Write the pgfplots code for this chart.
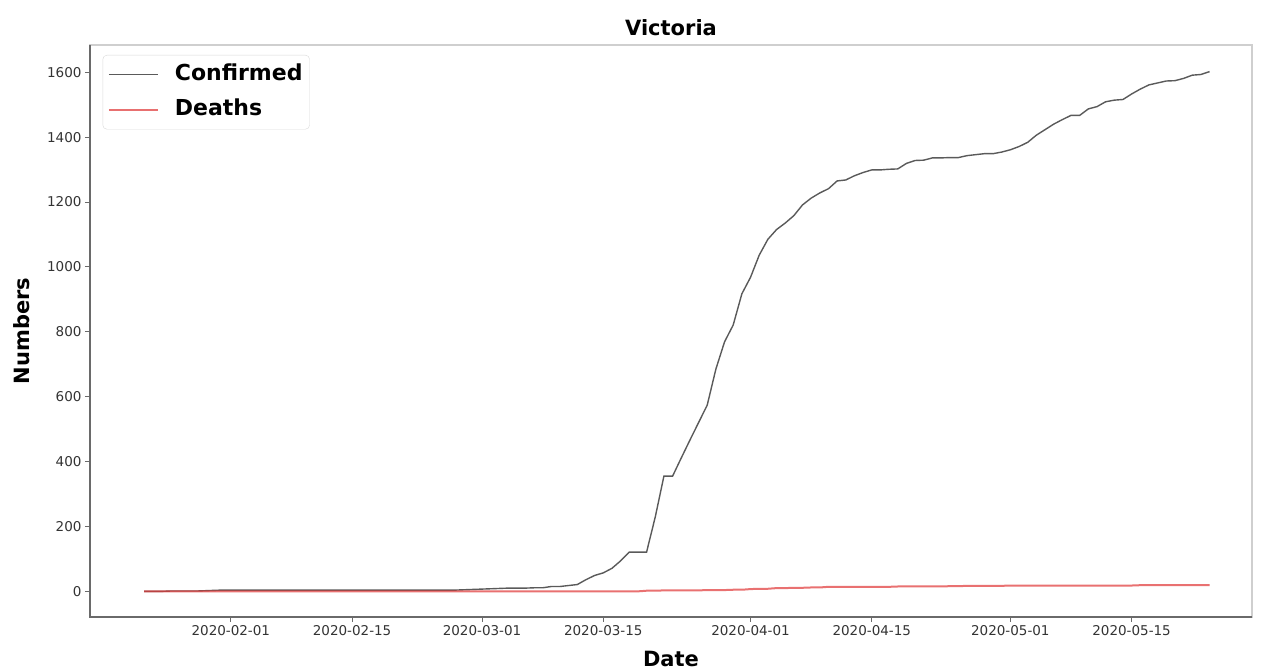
\documentclass[border=0pt]{standalone}
\usepackage{fontspec}
\setmainfont{DejaVu Sans}
\usepackage{pgfplots}
\usepackage{pgfplotstable}
\pgfplotsset{compat=1.18}

% Victoria: cumulative confirmed cases and deaths, day 0 = 2020-02-01
\pgfplotstableread{
day conf death
-10 0 0
-9 0 0
-8 0 0
-7 1 0
-6 1 0
-5 1 0
-4 1 0
-3 2 0
-2 3 0
-1 4 0
0 4 0
1 4 0
2 4 0
3 4 0
4 4 0
5 4 0
6 4 0
7 4 0
8 4 0
9 4 0
10 4 0
11 4 0
12 4 0
13 4 0
14 4 0
15 4 0
16 4 0
17 4 0
18 4 0
19 4 0
20 4 0
21 4 0
22 4 0
23 4 0
24 4 0
25 4 0
26 4 0
27 5 0
28 6 0
29 7 0
30 8 0
31 9 0
32 10 0
33 10 0
34 10 0
35 11 0
36 11 0
37 15 0
38 15 0
39 18 0
40 21 0
41 36 0
42 49 0
43 57 0
44 71 0
45 94 0
46 121 0
47 121 0
48 121 2
49 229 2
50 355 3
51 355 3
52 411 3
53 466 3
54 520 3
55 574 4
56 685 4
57 769 4
58 821 5
59 917 5
60 968 7
61 1036 8
62 1085 8
63 1115 10
64 1135 10
65 1158 11
66 1191 11
67 1212 12
68 1228 12
69 1241 14
70 1265 14
71 1268 14
72 1281 14
73 1291 14
74 1299 14
75 1299 14
76 1301 14
77 1302 15
78 1319 15
79 1328 15
80 1329 15
81 1336 15
82 1336 15
83 1337 16
84 1337 16
85 1343 17
86 1346 17
87 1349 17
88 1349 17
89 1354 17
90 1361 18
91 1371 18
92 1384 18
93 1406 18
94 1423 18
95 1440 18
96 1454 18
97 1467 18
98 1467 18
99 1487 18
100 1494 18
101 1509 18
102 1514 18
103 1516 18
104 1533 18
105 1548 19
106 1561 19
107 1567 19
108 1573 19
109 1574 19
110 1581 19
111 1591 19
112 1593 19
113 1602 19
}\vic

\definecolor{confcol}{HTML}{5A5A5A}
\definecolor{deathcol}{HTML}{E03A3A}
\definecolor{spinedark}{HTML}{6A6A6A}
\definecolor{spinelight}{HTML}{CFCFCF}

\begin{document}
\begin{tikzpicture}
\begin{axis}[
  scale only axis,
  width=1162pt, height=572pt,
  xmin=-16.26, xmax=117.9,
  ymin=-79, ymax=1684,
  xtick={0,14,29,43,60,74,90,104},
  xticklabels={2020-02-01,2020-02-15,2020-03-01,2020-03-15,2020-04-01,2020-04-15,2020-05-01,2020-05-15},
  ytick={0,200,...,1600},
  /pgf/number format/assume math mode=true,
  /pgf/number format/1000 sep={},
  tick label style={font=\fontsize{13.5}{16}\selectfont, text=black!80},
  tick align=outside, tick pos=left,
  major tick length=5pt,
  every tick/.style={spinedark, line width=1pt},
  axis line style={spinelight, line width=1.2pt},
  title={Victoria},
  title style={font=\fontsize{21}{24}\selectfont\bfseries, at={(axis description cs:0.5,1.019)}, anchor=center},
  xlabel={Date}, ylabel={Numbers},
  every axis x label/.style={at={(axis description cs:0.5,-0.073)}, anchor=center,
    font=\fontsize{21}{24}\selectfont\bfseries},
  every axis y label/.style={at={(axis description cs:-0.0585,0.5)}, rotate=90, anchor=center,
    font=\fontsize{21}{24}\selectfont\bfseries},
  legend cell align=left,
  legend image code/.code={\draw[#1] (0pt,0pt) -- (49pt,0pt);},
  legend style={at={(axis description cs:0.0109,0.9825)}, anchor=north west,
    draw=black!15, rounded corners=4pt, fill=white,
    font=\fontsize{22}{24}\selectfont\bfseries,
    inner xsep=5pt, inner ysep=7pt, row sep=10pt,
    nodes={inner sep=2pt, text height=16pt, text depth=5pt},
    /tikz/every odd column/.append style={column sep=14pt}},
  after end axis/.code={
    \draw[spinedark, line width=1.4pt] (rel axis cs:0,1) -- (rel axis cs:0,0) -- (rel axis cs:1,0);
  },
]
\addplot[confcol, line width=1.4pt] table[x=day, y=conf] {\vic};
\addlegendentry{Confirmed}
\addplot[deathcol, line width=2pt, opacity=0.72] table[x=day, y=death] {\vic};
\addlegendentry{Deaths}
\end{axis}
\path (current axis.south west) ++(-90pt,-54pt) rectangle ++(1261pt,671pt);
\end{tikzpicture}
\end{document}
